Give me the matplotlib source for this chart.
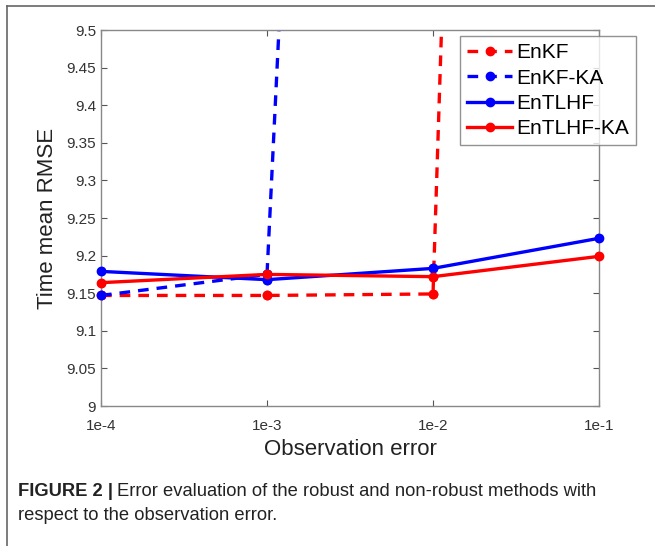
import matplotlib
matplotlib.use("Agg")
import matplotlib.pyplot as plt
from matplotlib.lines import Line2D

plt.rcParams['font.family'] = ['Liberation Sans', 'DejaVu Sans']

obs_error = [1e-4, 1e-3, 1e-2, 1e-1]
xtick_labels = ["1e-4", "1e-3", "1e-2", "1e-1"]
enkf = [9.147, 9.147, 9.149, 16.0]
enkf_ka = [9.147, 9.175, 13.7, 20.0]
entlhf = [9.179, 9.168, 9.183, 9.223]
entlhf_ka = [9.164, 9.175, 9.172, 9.199]
yticks = [9, 9.05, 9.1, 9.15, 9.2, 9.25, 9.3, 9.35, 9.4, 9.45, 9.5]
ytick_labels = ["9", "9.05", "9.1", "9.15", "9.2", "9.25", "9.3", "9.35", "9.4", "9.45", "9.5"]

fig = plt.figure(figsize=(6.55, 5.46), dpi=100)
ax = fig.add_axes([101/655, 1-406/546, (599-101)/655, (406-30)/546])

lw = 2.4
ms = 6
dash = (0, (3.2, 2.4))
series = [
    (enkf, '#ff0000', dash, 'EnKF'),
    (enkf_ka, '#0000ff', dash, 'EnKF-KA'),
    (entlhf, '#0000ff', '-', 'EnTLHF'),
    (entlhf_ka, '#ff0000', '-', 'EnTLHF-KA'),
]
ymin, ymax = 9, 9.5
for vals, col, ls, lab in series:
    ax.plot(obs_error, vals, color=col, linestyle=ls, lw=lw, marker='o', ms=ms, label=lab)
    xs = [x for x, v in zip(obs_error, vals) if ymin <= v <= ymax]
    vs = [v for v in vals if ymin <= v <= ymax]
    ax.plot(xs, vs, linestyle='none', marker='o', ms=ms, color=col, clip_on=False, zorder=3)

ax.set_xscale('log')
ax.set_xlim(1e-4, 1e-1)
ax.set_ylim(ymin, ymax)
ax.set_xticks(obs_error)
ax.set_xticklabels(xtick_labels)
ax.minorticks_off()
ax.set_yticks(yticks)
ax.set_yticklabels(ytick_labels)
ax.tick_params(direction='in', length=4, color='#555555', labelsize=11, labelcolor='#333333',
               top=True, right=True, width=0.8)
ax.tick_params(axis='x', pad=9)
for s in ax.spines.values():
    s.set_color('#888888')
    s.set_linewidth(1.0)

ax.set_xlabel('Observation error', fontsize=16, color='#222222', labelpad=5)
ax.set_ylabel('Time mean RMSE', fontsize=16, color='#222222', labelpad=6)

leg = ax.legend(loc='upper left', bbox_to_anchor=((460-101)/498, 1-(36-30)/376),
                fontsize=15, frameon=True, fancybox=False, handlelength=2.15,
                handletextpad=0.2, borderpad=0.35, labelspacing=0.3, borderaxespad=0)
leg.get_frame().set_edgecolor('#777777')
leg.get_frame().set_linewidth(1.0)
leg.set_zorder(5)

# figure border (top and left)
fig.add_artist(Line2D([7/655, 7/655], [0, 1-6/546], color='#666666', lw=1.2, transform=fig.transFigure))
fig.add_artist(Line2D([7/655, 1], [1-6/546, 1-6/546], color='#666666', lw=1.2, transform=fig.transFigure))

# caption
cap_fs = 13.2
t1 = fig.text(18/655, 1-491/546, "FIGURE 2 |", fontsize=cap_fs, fontweight='bold',
              color='#222222', va='center', ha='left')
fig.canvas.draw()
r = fig.canvas.get_renderer()
bb = t1.get_window_extent(renderer=r)
x_next = (bb.x1 + 4) / fig.bbox.width
fig.text(x_next, 1-491/546, "Error evaluation of the robust and non-robust methods with",
         fontsize=cap_fs, color='#222222', va='center', ha='left')
fig.text(18/655, 1-516/546, "respect to the observation error.",
         fontsize=cap_fs, color='#222222', va='center', ha='left')

fig.savefig('out.png', dpi=100)
